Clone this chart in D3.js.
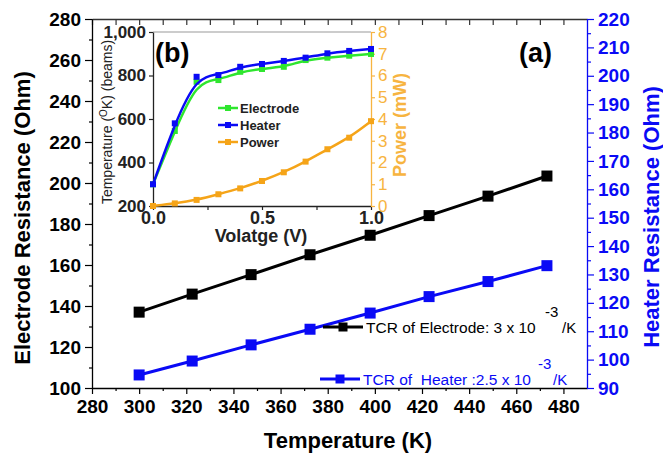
<!DOCTYPE html>
<html>
<head>
    <meta charset="utf-8">
    <title>Electrode / Heater resistance vs temperature</title>
    <script src="https://d3js.org/d3.v7.min.js"></script>
    <style>
        body { margin: 0; background: #fff; }
        svg { font-family: "Liberation Sans", Arial, sans-serif; }
        .domain { stroke-width: 1.3; }
        .tick line { stroke-width: 1.2; }
    </style>
</head>
<body>
    <div id="chart"></div>

    <script>
        // main plot data (a)
        const temps = [300, 322.5, 347.5, 372.5, 398, 423, 448, 473];
        const electrodeR = [137, 145.8, 155.3, 165, 174.5, 184.1, 193.6, 203.4];
        const heaterR = [94.6, 99.5, 105.2, 110.7, 116.4, 122.2, 127.5, 133.1];

        // inset data (b)
        const volts = [0, 0.1, 0.2, 0.3, 0.4, 0.5, 0.6, 0.7, 0.8, 0.9, 1.0];
        const heaterT = [300, 580, 794, 802, 840, 853, 867, 882, 902, 913, 922];
        const electrodeT = [300, 545, 771, 779, 817, 830, 840, 871, 882, 891, 899];
        const powerMW = [0, 0.12, 0.28, 0.54, 0.81, 1.15, 1.55, 2.04, 2.61, 3.14, 3.9];

        // tick labels
        const xTicks = [280, 300, 320, 340, 360, 380, 400, 420, 440, 460, 480];
        const yLeftTicks = [100, 120, 140, 160, 180, 200, 220, 240, 260, 280];
        const yRightTicks = [90, 100, 110, 120, 130, 140, 150, 160, 170, 180, 190, 200, 210, 220];
        const insetXTicks = [0, 0.5, 1.0];
        const insetYTicks = [200, 400, 600, 800, 1000];
        const insetPTicks = [0, 1, 2, 3, 4, 5, 6, 7, 8];

        const BLUE = "#0a0af5";
        const GREEN = "#2ee62e";
        const ORANGE = "#f5a418";
        const ORANGE_AX = "#f7b440";

        const W = 663, H = 455;
        const svg = d3.select("#chart").append("svg")
            .attr("width", W).attr("height", H);

        // ---- main scales
        const x = d3.scaleLinear().domain([280, 490]).range([92, 587]);
        const yL = d3.scaleLinear().domain([100, 280]).range([388, 19]);
        const yR = d3.scaleLinear().domain([90, 220]).range([388, 19]);

        function styleTicks(g, size, weight, color) {
            g.selectAll("text").style("font-size", size + "px")
                .style("font-weight", weight).attr("fill", color);
            g.selectAll("line").attr("stroke", color);
            g.select(".domain").attr("stroke", color);
        }

        // bottom axis
        const minorX = d3.range(290, 490, 20);
        svg.append("g").attr("transform", "translate(0,388)")
            .call(d3.axisBottom(x).tickValues(minorX).tickSize(3).tickFormat(""))
            .call(g => g.select(".domain").remove());
        const gxb = svg.append("g").attr("transform", "translate(0,388)")
            .call(d3.axisBottom(x).tickValues(xTicks).tickSizeInner(6).tickSizeOuter(0).tickPadding(6));
        styleTicks(gxb, 19, "bold", "#000");

        // top axis (mirror, inward ticks)
        svg.append("g").attr("transform", "translate(0,19)")
            .call(d3.axisTop(x).tickValues(d3.range(280, 490, 10)).tickSizeInner(-6).tickSizeOuter(0).tickFormat(""))
            .call(g => g.selectAll("line,path").attr("stroke", "#333"));

        // left axis
        svg.append("g").attr("transform", "translate(92,0)")
            .call(d3.axisLeft(yL).tickValues(d3.range(110, 280, 20)).tickSize(3).tickFormat(""))
            .call(g => g.select(".domain").remove());
        const gyl = svg.append("g").attr("transform", "translate(92,0)")
            .call(d3.axisLeft(yL).tickValues(yLeftTicks).tickSizeInner(7).tickSizeOuter(0).tickPadding(4));
        styleTicks(gyl, 19, "bold", "#000");

        // right axis
        svg.append("g").attr("transform", "translate(587,0)")
            .call(d3.axisRight(yR).tickValues(d3.range(95, 220, 10)).tickSize(4).tickFormat(""))
            .call(g => g.selectAll("line").attr("stroke", BLUE))
            .call(g => g.select(".domain").remove());
        const gyr = svg.append("g").attr("transform", "translate(587,0)")
            .call(d3.axisRight(yR).tickValues(yRightTicks).tickSizeInner(7).tickSizeOuter(0).tickPadding(4));
        styleTicks(gyr, 19, "bold", BLUE);

        // axis titles
        svg.append("text").attr("x", 348).attr("y", 448)
            .attr("text-anchor", "middle").style("font-size", "22px").style("font-weight", "bold")
            .text("Temperature (K)");
        svg.append("text").attr("transform", "translate(22,218) rotate(-90)")
            .attr("dy", "0.35em").attr("text-anchor", "middle")
            .style("font-size", "22px").style("font-weight", "bold")
            .text("Electrode Resistance (Ohm)");
        svg.append("text").attr("transform", "translate(651,217) rotate(-90)")
            .attr("dy", "0.35em").attr("text-anchor", "middle").attr("fill", BLUE)
            .style("font-size", "22px").style("font-weight", "bold")
            .text("Heater Resistance (Ohm)");

        // main lines
        const lineE = d3.line().x((d, i) => x(temps[i])).y(d => yL(d));
        const lineH = d3.line().x((d, i) => x(temps[i])).y(d => yR(d));
        svg.append("path").datum(electrodeR).attr("d", lineE)
            .attr("fill", "none").attr("stroke", "#000").attr("stroke-width", 3);
        svg.append("path").datum(heaterR).attr("d", lineH)
            .attr("fill", "none").attr("stroke", BLUE).attr("stroke-width", 3);
        const ms = 11;
        svg.selectAll(".mE").data(electrodeR).enter().append("rect")
            .attr("x", (d, i) => x(temps[i]) - ms / 2).attr("y", d => yL(d) - ms / 2)
            .attr("width", ms).attr("height", ms).attr("fill", "#000");
        svg.selectAll(".mH").data(heaterR).enter().append("rect")
            .attr("x", (d, i) => x(temps[i]) - ms / 2).attr("y", d => yR(d) - ms / 2)
            .attr("width", ms).attr("height", ms).attr("fill", BLUE);

        // main legend
        function tcrLegend(lx, ly, color, label, supX, endX) {
            svg.append("line").attr("x1", lx).attr("x2", lx + 40).attr("y1", ly).attr("y2", ly)
                .attr("stroke", color).attr("stroke-width", 3);
            svg.append("rect").attr("x", lx + 20 - 4.5).attr("y", ly - 4.5)
                .attr("width", 9).attr("height", 9).attr("fill", color);
            svg.append("text").attr("x", lx + 43).attr("y", ly + 6).attr("fill", color)
                .style("font-size", "15.5px").style("white-space", "pre").text(label);
            svg.append("text").attr("x", supX).attr("y", ly - 10).attr("fill", color)
                .style("font-size", "15px").text("-3");
            svg.append("text").attr("x", endX).attr("y", ly + 6).attr("fill", color)
                .style("font-size", "15px").text("/K");
        }
        tcrLegend(323, 327, "#000", "TCR of Electrode: 3 x 10", 545, 562);
        tcrLegend(320, 379, BLUE, "TCR of  Heater :2.5 x 10", 538, 553);

        svg.append("text").attr("x", 519).attr("y", 62)
            .style("font-size", "27px").style("font-weight", "bold").text("(a)");

        // ---- inset (b)
        const xI = d3.scaleLinear().domain([0, 1]).range([153, 371]);
        const yI = d3.scaleLinear().domain([200, 1000]).range([206, 32]);
        const yP = d3.scaleLinear().domain([0, 8]).range([206, 32]);

        svg.append("rect").attr("x", 153).attr("y", 32).attr("width", 218).attr("height", 174)
            .attr("fill", "#fff");
        svg.append("line").attr("x1", 153).attr("x2", 371).attr("y1", 32).attr("y2", 32)
            .attr("stroke", "#999").attr("stroke-width", 1.2);

        const gib = svg.append("g").attr("transform", "translate(0,206)")
            .call(d3.axisBottom(xI).tickValues([0, 0.25, 0.5, 0.75, 1.0]).tickSizeInner(4).tickSizeOuter(0)
                .tickPadding(1).tickFormat(d => insetXTicks.includes(d) ? d3.format(".1f")(d) : ""));
        styleTicks(gib, 18, "bold", "#222");

        const gil = svg.append("g").attr("transform", "translate(153,0)")
            .call(d3.axisLeft(yI).tickValues(insetYTicks).tickSizeInner(4).tickSizeOuter(0)
                .tickPadding(3).tickFormat(d3.format(",")));
        styleTicks(gil, 17, "bold", "#222");

        const gir = svg.append("g").attr("transform", "translate(371,0)")
            .call(d3.axisRight(yP).tickValues(insetPTicks).tickSizeInner(4).tickSizeOuter(0).tickPadding(3));
        styleTicks(gir, 17, "normal", ORANGE_AX);

        svg.append("text").attr("x", 261).attr("y", 242)
            .attr("text-anchor", "middle").attr("fill", "#222")
            .style("font-size", "18px").style("font-weight", "bold").text("Volatge (V)");
        const tl = svg.append("text").attr("transform", "translate(107,122) rotate(-90)")
            .attr("dy", "0.35em").attr("text-anchor", "middle").attr("fill", "#222")
            .style("font-size", "14px");
        tl.append("tspan").text("Temperature (");
        tl.append("tspan").attr("dy", "-5").style("font-size", "10px").text("O");
        tl.append("tspan").attr("dy", "5").text("K) (beams)");
        svg.append("text").attr("transform", "translate(400,125) rotate(-90)")
            .attr("dy", "0.35em").attr("text-anchor", "middle").attr("fill", ORANGE_AX)
            .style("font-size", "18px").style("font-weight", "bold").text("Power (mW)");

        const curveT = d3.line().x((d, i) => xI(volts[i])).y(d => yI(d)).curve(d3.curveBasis);
        const curveP = d3.line().x((d, i) => xI(volts[i])).y(d => yP(d)).curve(d3.curveBasis);
        const series = [
            { vals: electrodeT, color: GREEN, line: curveT, y: yI },
            { vals: heaterT, color: BLUE, line: curveT, y: yI },
            { vals: powerMW, color: ORANGE, line: curveP, y: yP }
        ];
        series.forEach(s => {
            svg.append("path").datum(s.vals).attr("d", s.line)
                .attr("fill", "none").attr("stroke", s.color).attr("stroke-width", 2.5);
            svg.append("g").selectAll("rect").data(s.vals).enter().append("rect")
                .attr("x", (d, i) => xI(volts[i]) - 3).attr("y", d => s.y(d) - 3)
                .attr("width", 6).attr("height", 6).attr("fill", s.color);
        });

        // inset legend
        const legNames = ["Electrode", "Heater", "Power"];
        const legColors = [GREEN, BLUE, ORANGE];
        legNames.forEach((n, i) => {
            const ly = 108 + i * 17;
            svg.append("line").attr("x1", 218).attr("x2", 238).attr("y1", ly).attr("y2", ly)
                .attr("stroke", legColors[i]).attr("stroke-width", 2.5);
            svg.append("rect").attr("x", 225).attr("y", ly - 3).attr("width", 6).attr("height", 6)
                .attr("fill", legColors[i]);
            svg.append("text").attr("x", 240).attr("y", ly + 4.5).attr("fill", "#222")
                .style("font-size", "13px").style("font-weight", "bold").text(n);
        });

        svg.append("text").attr("x", 155).attr("y", 62)
            .style("font-size", "27px").style("font-weight", "bold").text("(b)");
    </script>
</body>
</html>
